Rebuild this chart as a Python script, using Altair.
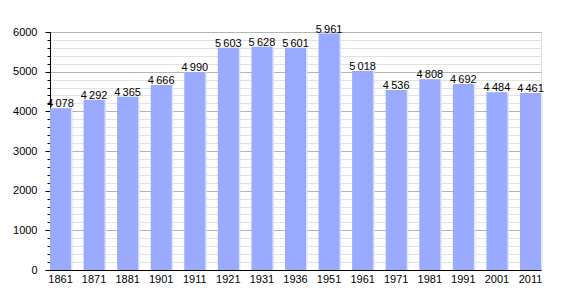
import altair as alt
import pandas as pd

years = ["1861", "1871", "1881", "1901", "1911", "1921", "1931", "1936",
         "1951", "1961", "1971", "1981", "1991", "2001", "2011"]
population = [4078, 4292, 4365, 4666, 4990, 5603, 5628, 5601,
              5961, 5018, 4536, 4808, 4692, 4484, 4461]

minor_ticks = list(range(0, 6001, 200))
major_ticks = list(range(0, 6001, 1000))

def fmt(v):
    s = f"{v:,}"
    return s.replace(",", "\u2009")

df = pd.DataFrame({"year": years, "pop": population,
                   "label": [fmt(v) for v in population]})

FONT = "Liberation Sans"
W, H = 491, 238

xscale = alt.Scale(paddingInner=0.374, paddingOuter=0)
yscale = alt.Scale(domain=[0, 6000], nice=False)

xaxis = alt.Axis(title=None, labelAngle=0, labelFont=FONT,
                 labelFontSize=11, labelColor="#000",
                 ticks=False, domainColor="#000", labelPadding=3)
X = alt.X("year:N", sort=years, scale=xscale, axis=xaxis)

base = alt.Chart(df)

minor = base.mark_bar(opacity=0).encode(
    x=X,
    y=alt.Y("pop:Q", scale=yscale,
            axis=alt.Axis(values=minor_ticks, grid=True, gridColor="#e2e2e2",
                          gridWidth=1, labels=False, tickSize=3,
                          tickColor="#000", domain=False, title=None,
                          orient="left")),
)

glow = base.mark_bar(color="#dfe4ff", xOffset=1.5).encode(
    x=X,
    y=alt.Y("pop:Q", scale=yscale, axis=None),
)

bars = base.mark_bar(color="#99aaff").encode(
    x=X,
    y=alt.Y("pop:Q", scale=yscale,
            axis=alt.Axis(values=major_ticks, grid=True, gridColor="#b4b4b4",
                          gridWidth=1, labelFont=FONT, labelFontSize=11,
                          labelColor="#000", tickSize=5, tickColor="#000",
                          domainColor="#000", labelPadding=8, title=None,
                          format="d", orient="left")),
)

text = base.mark_text(baseline="bottom", dy=1, font=FONT, fontSize=11,
                      color="#000").encode(
    x=X,
    y=alt.Y("pop:Q", scale=yscale, axis=None),
    text="label:N",
)

chart = alt.layer(minor, glow, bars, text).resolve_axis(
    y="independent"
).properties(
    width=W, height=H,
    autosize=alt.AutoSizeParams(type="none"),
    padding={"left": 50, "top": 32, "right": 29, "bottom": 30},
).configure_view(stroke=None).configure(background="white")

chart.save("out.html", embed_options={"renderer": "svg", "actions": False})
